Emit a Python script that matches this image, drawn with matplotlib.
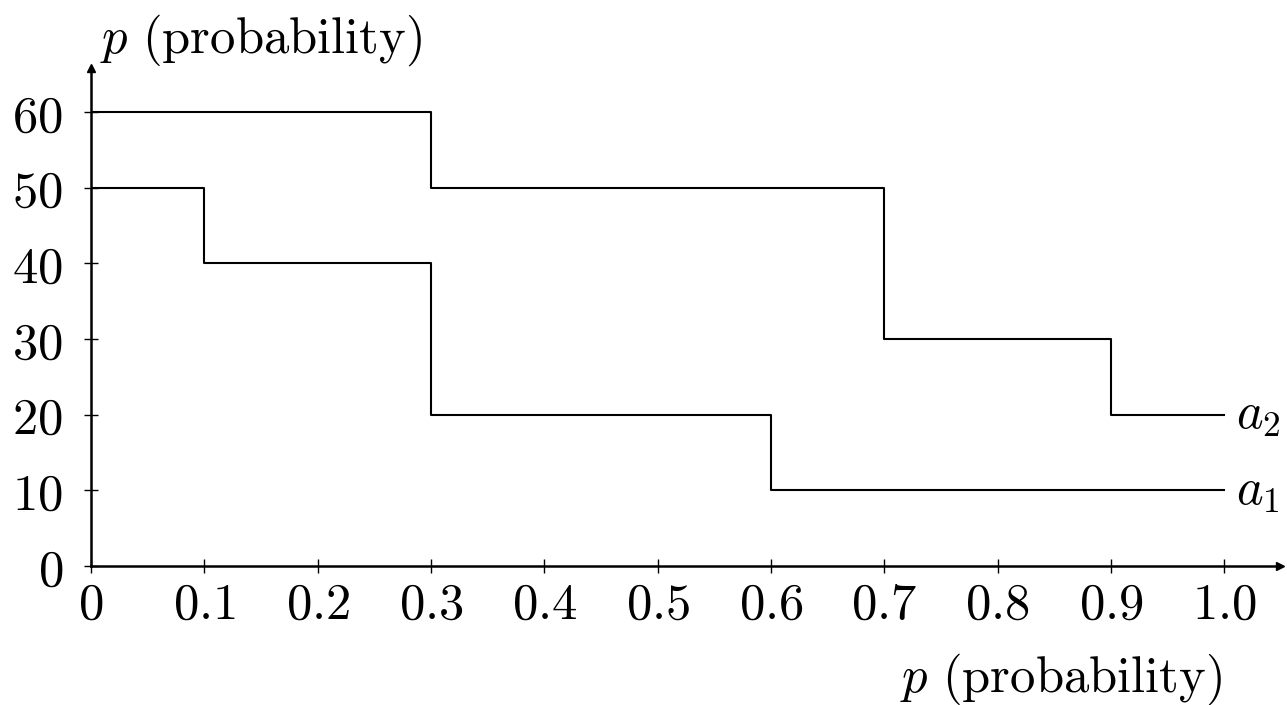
import numpy as np
import matplotlib
matplotlib.use("Agg")
import matplotlib.pyplot as plt
from matplotlib.ticker import FixedLocator

plt.rcParams['mathtext.fontset'] = 'cm'
plt.rcParams['font.family'] = 'serif'
plt.rcParams['font.serif'] = ['DejaVu Serif']

# step data (value holds until next x)
a1_x = [0.0, 0.1, 0.3, 0.6, 1.0]
a1_y = [50, 40, 20, 10, 10]
a2_x = [0.0, 0.3, 0.7, 0.9, 1.0]
a2_y = [60, 50, 30, 20, 20]

x_ticks = [0, 0.1, 0.2, 0.3, 0.4, 0.5, 0.6, 0.7, 0.8, 0.9, 1.0]
x_labels = ['0', '0.1', '0.2', '0.3', '0.4', '0.5', '0.6', '0.7', '0.8', '0.9', '1.0']
y_ticks = [0, 10, 20, 30, 40, 50, 60]

FS = 36.5

fig = plt.figure(figsize=(12.87, 7.05), dpi=100)
ax = fig.add_axes([91/1287, (705-566)/705, (1280-91)/1287, (566-68)/705])

ax.step(a1_x, a1_y, where='post', color='black', lw=1.5)
ax.step(a2_x, a2_y, where='post', color='black', lw=1.5)

ax.set_xlim(0, (1280-91)/1133.3)
ax.set_ylim(0, (566-68)/7.567)

for s in ['top', 'right']:
    ax.spines[s].set_visible(False)
for s in ['left', 'bottom']:
    ax.spines[s].set_linewidth(1.8)

# arrow heads at the axis ends
ax.plot(1, 0, marker='>', color='k', ms=6, transform=ax.transAxes, clip_on=False)
ax.plot(0, 1, marker='^', color='k', ms=6, transform=ax.transAxes, clip_on=False)

ax.xaxis.set_major_locator(FixedLocator(x_ticks))
ax.set_xticklabels(['$' + l + '$' for l in x_labels])
ax.yaxis.set_major_locator(FixedLocator(y_ticks))
ax.set_yticklabels(['$%d$' % v for v in y_ticks])
ax.tick_params(axis='both', direction='inout', length=10, width=1, labelsize=FS)
ax.tick_params(axis='x', pad=5)
ax.tick_params(axis='y', pad=15)

# curve labels
ax.text(1.01, a2_y[-1], r'$a_2$', fontsize=FS, va='center', ha='left')
ax.text(1.01, a1_y[-1], r'$a_1$', fontsize=FS, va='center', ha='left')

# axis titles
fig.text(100/1287, 1-53/705, r'$p\ \mathrm{(probability)}$', fontsize=FS, ha='left', va='baseline')
fig.text(1222/1287, 1-692/705, r'$p\ \mathrm{(probability)}$', fontsize=FS, ha='right', va='baseline')

fig.savefig('out.png', dpi=100)
